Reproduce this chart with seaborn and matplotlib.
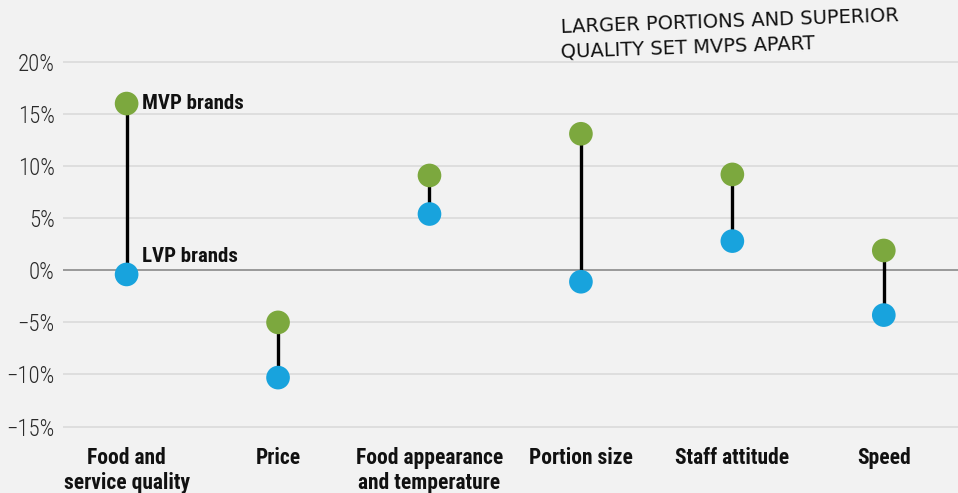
import matplotlib
matplotlib.use("Agg")
import matplotlib.pyplot as plt
import matplotlib.font_manager as fm
import seaborn as sns
import pandas as pd

categories = ["Food and\nservice quality", "Price", "Food appearance\nand temperature",
              "Portion size", "Staff attitude", "Speed"]
mvp_values = [16.0, -5.0, 9.1, 13.1, 9.2, 1.9]
lvp_values = [-0.4, -10.3, 5.4, -1.1, 2.8, -4.3]
y_ticks = [-15, -10, -5, 0, 5, 10, 15, 20]
y_tick_labels = ["\u221215%", "\u221210%", "\u22125%", "0%", "5%", "10%", "15%", "20%"]

sns.set_theme(style="white")
names = {f.name for f in fm.fontManager.ttflist}
cond = "Roboto Condensed" if "Roboto Condensed" in names else (
    "Liberation Sans Narrow" if "Liberation Sans Narrow" in names else "Roboto")
plt.rcParams["font.family"] = [cond, "DejaVu Sans"]

BG = "#f2f2f2"
GREEN = "#7ca83e"
BLUE = "#18a3dd"

fig = plt.figure(figsize=(9.58, 4.93), dpi=100, facecolor=BG)
ax = fig.add_axes([63/958, 1 - 437/493, (958 - 63)/958, (437 - 40)/493])
ax.set_facecolor(BG)

x = list(range(len(categories)))
df = pd.DataFrame({
    "x": x * 2,
    "value": mvp_values + lvp_values,
    "group": ["MVP brands"] * len(x) + ["LVP brands"] * len(x),
})

for t in y_ticks:
    if t == 0:
        ax.axhline(t, color="#8a8a8a", lw=1.2, zorder=1)
    else:
        ax.axhline(t, color="#dadada", lw=1.2, zorder=0)

ax.vlines(x, lvp_values, mvp_values, color="black", lw=2.4, zorder=2)
sns.scatterplot(data=df, x="x", y="value", hue="group",
                palette={"MVP brands": GREEN, "LVP brands": BLUE},
                s=290, edgecolor="none", legend=False, ax=ax, zorder=3)

ax.set_xlim(-0.42, 5.49)
ax.set_ylim(-16.0, 22.1)
ax.set_yticks(y_ticks)
ax.set_yticklabels(y_tick_labels)
ax.set_xticks(x)
ax.set_xticklabels(categories, fontweight="bold", fontsize=15.5, color="#111111",
                   linespacing=1.2, va="top")
ax.tick_params(axis="y", length=0, labelsize=16.5, labelcolor="#2a2a2a", pad=6)
ax.tick_params(axis="x", length=0, pad=7)
for lbl in ax.get_yticklabels():
    lbl.set_fontweight("light")
for s in ax.spines.values():
    s.set_visible(False)
ax.set_xlabel("")
ax.set_ylabel("")

ax.annotate("MVP brands", xy=(0, mvp_values[0]), xytext=(11, 0), textcoords="offset points",
            ha="left", va="center", fontsize=15, fontweight="bold", color="#111111")
ax.annotate("LVP brands", xy=(0, 0), xytext=(11, 10), textcoords="offset points",
            ha="left", va="center", fontsize=15, fontweight="bold", color="#111111")

fig.text(560/958, 1 - 34/493, "LARGER PORTIONS AND SUPERIOR\nQUALITY SET MVPS APART",
         ha="left", va="center", fontsize=14, color="#111111", rotation=2,
         linespacing=1.35, family=["DejaVu Sans"])

fig.savefig("out.png", dpi=100, facecolor=BG)
